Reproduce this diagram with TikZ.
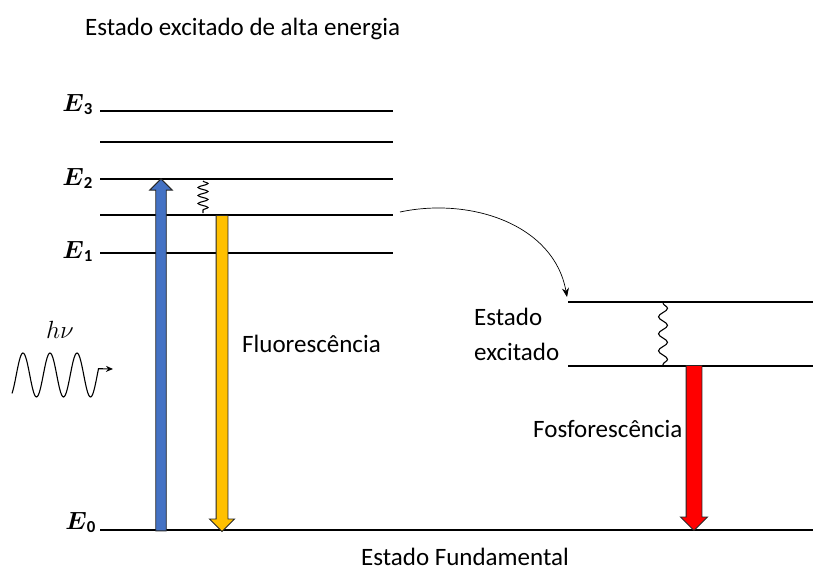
\documentclass[tikz,border=0pt]{standalone}
\usepackage{fontspec}
\setmainfont{Carlito}
\usepackage{amsmath}
\usepackage{xcolor}
\usepackage{tikz}
\usetikzlibrary{shapes,arrows}
\usetikzlibrary{arrows.meta}
\usetikzlibrary{decorations.pathmorphing}

\definecolor{absblue}{HTML}{4472C4}
\definecolor{fluoyellow}{HTML}{FFC000}
\definecolor{phosred}{HTML}{FF0000}

\begin{document}
\begin{tikzpicture}[x=1pt,y=-1pt]
\tikzstyle{level}=[line width=2.8pt, draw=black]
\tikzstyle{txt}=[inner sep=0pt, anchor=base west, font=\fontsize{25}{30}\selectfont]
\tikzstyle{elabel}=[anchor=base east, inner sep=0pt, font=\fontsize{24}{30}\selectfont]
\tikzstyle{fat}=[single arrow, draw=black!85, line width=0.9pt, inner xsep=0pt, single arrow tip angle=90]
\tikzstyle{wiggle}=[decorate, line width=1.1pt, draw=black]

\useasboundingbox (0,0) rectangle (813,570);

% Singlet levels
\foreach \y/\name in {111/e3, 142/e3b, 179/e2, 215/e2b, 253/e1}{
  \draw[level] (100,\y) coordinate (\name-l) -- (393,\y) coordinate (\name-r);
}
\draw[level] (100,530) coordinate (e0-l) -- (813,530) coordinate (e0-r);

% Triplet levels
\draw[level] (568,302) coordinate (t2-l) -- (813,302) coordinate (t2-r);
\draw[level] (568,366) coordinate (t1-l) -- (813,366) coordinate (t1-r);

\node[elabel] (lab-e3) at (93,111) {$\boldsymbol{E}_{\mathbf{3}}$};
\node[elabel] (lab-e2) at (93,185) {$\boldsymbol{E}_{\mathbf{2}}$};
\node[elabel] (lab-e1) at (93,258) {$\boldsymbol{E}_{\mathbf{1}}$};
\node[elabel] (lab-e0) at (96,529) {$\boldsymbol{E}_{\mathbf{0}}$};

% Transitions
\node[fat, fill=absblue, rotate=90, minimum height=352pt, inner ysep=4.8pt, single arrow head extend=6pt] (absorb) at (161,357.5) {};
\node[fat, fill=fluoyellow, rotate=-90, minimum height=316pt, inner ysep=5.5pt, single arrow head extend=6.5pt] (fluo) at (222,370.5) {};
\node[fat, fill=phosred, rotate=-90, minimum height=165pt, inner ysep=7.5pt, single arrow head extend=5.5pt] (phos) at (694,444) {};

\coordinate (relax-top) at (203,181);
\coordinate (relax-bot) at (203,213);
\draw[wiggle, decoration={snake, amplitude=5pt, segment length=8pt}] (relax-top) -- (relax-bot);
\coordinate (isc-top) at (663,303);
\draw[wiggle, decoration={snake, amplitude=4.5pt, segment length=17pt}] (isc-top) -- (663,366);

\draw[-{Stealth[length=9pt,width=7pt]}, line width=0.7pt] (e2b-r) ++(7,-3) coordinate (isc-from) to[out=12, in=100] (567,297);

% Photon
\node[inner sep=0pt, anchor=base, font=\fontsize{24}{28}\selectfont] (photon) at (60,338) {$h\nu$};
\draw[line width=1.1pt, -{Stealth[length=7pt,width=6pt]}] plot[domain=12:98.5, samples=90, smooth] (\x,{375-22*sin(13.333*(\x-16.25))}) -- (113,369);

% Labels
\node[txt] (title) at (85,35) {Estado excitado de alta energia};
\node[txt] (fluo-lab) at (242,352) {Fluorescência};
\node[txt] (triplet-lab) at (474,325) {Estado};
\node[txt] (triplet-lab2) at (474,360) {excitado};
\node[txt] (phos-lab) at (533,437) {Fosforescência};
\node[txt, anchor=base] (ground-lab) at (465,565) {Estado Fundamental};
\end{tikzpicture}
\end{document}
